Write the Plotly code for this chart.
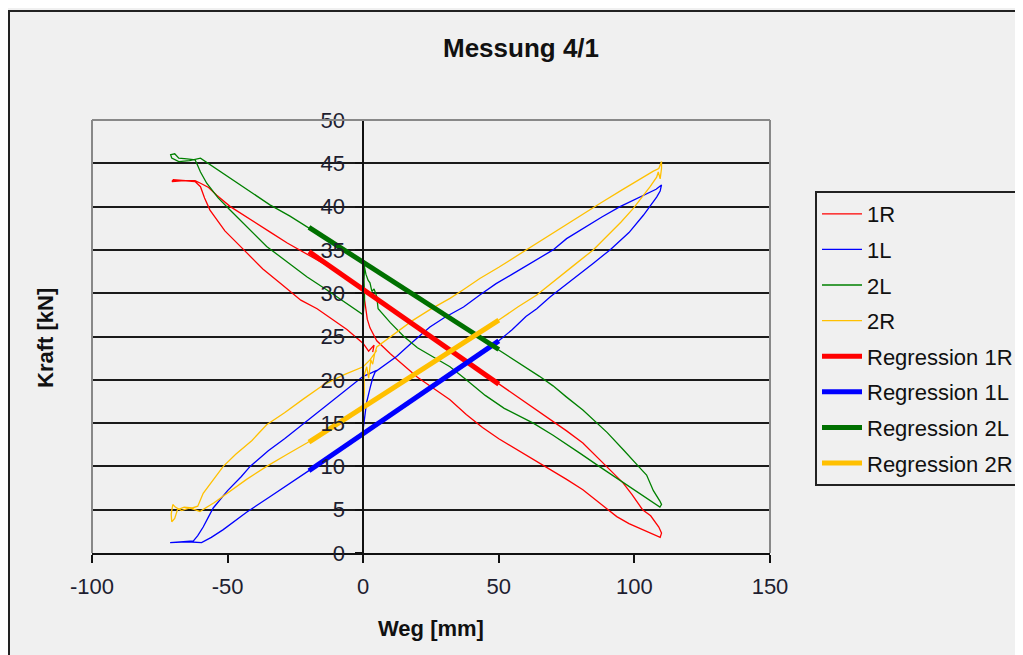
import plotly.graph_objects as go

# ---------------- data ----------------
x_1R = [0, 0.8, 1.5, 2.5, 4, 5, 10, 15, 20, 26, 32, 38, 44, 50, 57, 63, 69, 75, 81, 87, 93.5, 98, 103, 107, 109.5,
        110, 109, 106, 103, 99, 95.8, 91, 86, 81, 75, 69, 60, 50, 40, 30, 20, 10, 0,
        -10, -21, -28, -34, -41, -49, -54, -57, -60, -62, -66, -70.5, -70,
        -66, -62, -60, -58.5, -56.5, -51, -44, -37, -30, -23, -17, -12, -6, 0, 2, 4, 3.5]
y_1R = [30.4, 28.5, 27, 26, 25, 24.5, 23, 21.6, 20.3, 19, 17.7, 16, 14.5, 13.2, 11.9, 10.8, 9.6, 8.5, 7.3, 5.8, 4.2, 3.4, 2.7, 2.1, 1.8,
        2.3, 3, 4.3, 5, 6.8, 8.1, 9.6, 11.2, 12.7, 14.1, 15.4, 17.4, 19.5, 21.7, 23.9, 26.1, 28.2, 30.4,
        32.6, 34.6, 35.8, 37, 38.4, 40, 41.3, 42.2, 42.7, 43, 43, 42.9, 43.1,
        43, 42.9, 42.3, 41, 39.6, 37.2, 35, 32.8, 31, 29.2, 28.2, 27.1, 25.8, 24.2, 23.3, 24, 23.2]

x_1L = [0, 0.6, 1.2, 2.5, 3.5, 4.4, 8, 12.3, 18, 24.6, 30, 37, 43, 49, 55, 61.5, 70, 75, 81, 88, 94.7, 100, 104.5, 108, 110,
        109.5, 108.2, 106, 103.3, 98, 91, 85, 80, 74, 69, 64, 60, 55, 50, 40, 30, 20, 10, 0,
        -10, -19.6, -27, -34.4, -43, -51.6, -56, -59.6, -65, -71.2,
        -66, -62.6, -61, -59, -57, -55.3, -50, -45, -41.7, -35, -29, -23.3, -18, -12.3, -6, 0, 3, 5]
y_1L = [14.3, 15.8, 17.3, 19, 20.2, 20.9, 21.7, 22.7, 24.3, 26.1, 27.2, 28.4, 29.8, 31.1, 32.2, 33.4, 35, 36.3, 37.5, 38.8, 40, 40.8, 41.5, 42, 42.5,
        41.8, 41.1, 40.2, 39, 37, 35, 33.5, 32.3, 30.8, 29.6, 28.2, 27.3, 25.8, 24.5, 22.4, 20.2, 18.1, 15.9, 13.8,
        11.6, 9.6, 8, 6.5, 4.7, 2.7, 1.8, 1.2, 1.3, 1.2,
        1.3, 1.4, 2, 3, 4.2, 5.2, 7.2, 8.8, 10, 11.8, 13.2, 14.6, 15.9, 17.3, 18.9, 20.4, 20.8, 21.1]

x_2L = [0.3, 1, 1.8, 2.5, 3.2, 4, 5, 5.5, 10, 15, 20, 26, 32, 38, 45, 52, 57, 62.7, 70, 75, 80, 87, 94.7, 100, 104, 107, 109.4, 110,
        109.4, 107, 104.5, 102.7, 99, 96, 90, 85, 81, 75, 70, 65, 58, 50, 40, 30, 20, 10, 0,
        -10, -20.8, -27, -34.4, -41, -47.9, -53, -57, -59, -60, -64, -68, -70.6, -71, -69.5, -68, -65, -62,
        -61.4, -60, -57.7, -53.5, -49.1, -42, -35.6, -28, -20.8, -13.5, -6, 0, 0.5, 0.3, 0.5]
y_2L = [33.3, 32.2, 31.5, 31.2, 30.2, 30.5, 29.6, 28.2, 26.6, 25, 23.7, 22.6, 21.5, 20, 18.2, 16.7, 15.9, 15, 13.6, 12.6, 11.5, 10, 8.4, 7.3, 6.5, 5.8, 5.3, 5.6,
        6, 7.2, 9, 9.6, 10.9, 11.9, 13.9, 15.4, 16.5, 18, 19.3, 20.4, 21.8, 23.5, 25.5, 27.5, 29.5, 31.6, 33.6,
        35.6, 37.7, 38.9, 40.2, 41.6, 43.1, 44.2, 45, 45.4, 45.6, 45.3, 45.2, 45.6, 46, 46.1, 45.6, 45.5, 45.4,
        45, 44, 42.7, 41, 39.6, 37.4, 35.4, 33.6, 31.9, 30.4, 28.8, 27.5, 29.5, 31.5, 33]

x_2R = [0, 0.4, 0.3, 1.3, 2, 2.8, 3.5, 4.2, 5, 8, 12.3, 18, 24.6, 32, 36.9, 43, 50, 55, 61.5, 68.9, 75, 81.2, 88, 95.3, 100, 104, 107, 109, 110,
        110, 109.5, 108.8, 108.2, 105.8, 102.5, 99.6, 95, 90, 84.8, 78, 72, 68.9, 64, 57, 50, 40, 30, 20, 10, 0,
        -10, -20.8, -28, -35.6, -43, -50.3, -55, -60.2, -64, -67, -69.3, -70.2, -70.8, -70.6, -69.5, -68.5, -66, -63, -61,
        -59, -55.5, -51.6, -47, -41, -35.6, -29, -22, -14.7, -7, 0, 2.5, 5]
y_2R = [16.8, 18.5, 20.5, 21.5, 20.2, 22.3, 21.8, 23, 23.8, 24.5, 25.4, 26.8, 28.1, 29.4, 30.4, 31.7, 33, 34, 35.2, 36.7, 38, 39.2, 40.5, 41.9, 42.8, 43.6, 44.1, 44.4, 45.2,
        44.4, 43.2, 44, 43.4, 42.3, 41, 39.8, 38.2, 36.6, 35, 33.3, 31.8, 31.1, 29.8, 28.4, 26.9, 24.9, 22.9, 20.9, 18.8, 16.8,
        14.8, 12.7, 11.4, 10, 8.5, 6.9, 5.8, 4.8, 5.2, 4.9, 5.3, 5.6, 4.5, 3.6, 4, 5, 5.3, 5.2, 5.4,
        6.9, 8.4, 10, 11.4, 13, 14.8, 16.2, 17.8, 19.4, 20.6, 21.5, 22.3, 23.4]

x_reg = [-20, 50]
y_reg_1R = [34.8, 19.5]
y_reg_1L = [9.5, 24.5]
y_reg_2L = [37.6, 23.5]
y_reg_2R = [12.8, 26.9]

x_ticks = [-100, -50, 0, 50, 100, 150]
x_tick_text = ["-100", "-50", "0", "50", "100", "150"]
y_ticks = [0, 5, 10, 15, 20, 25, 30, 35, 40, 45, 50]

# ---------------- styling ----------------
RED, BLUE, GREEN, GOLD = "#ff0000", "#0000ff", "#008000", "#ffc000"
BG = "#f0f0f0"
FONT = "Liberation Sans, Arial, sans-serif"

fig = go.Figure()
series = [
    ("1R", x_1R, y_1R, RED, 1.3),
    ("1L", x_1L, y_1L, BLUE, 1.3),
    ("2L", x_2L, y_2L, GREEN, 1.3),
    ("2R", x_2R, y_2R, GOLD, 1.3),
    ("Regression 1R", x_reg, y_reg_1R, RED, 5),
    ("Regression 1L", x_reg, y_reg_1L, BLUE, 5),
    ("Regression 2L", x_reg, y_reg_2L, "#007000", 5),
    ("Regression 2R", x_reg, y_reg_2R, GOLD, 5),
]
for name, xs, ys, col, w in series:
    fig.add_trace(go.Scatter(x=xs, y=ys, mode="lines", name=name, legendgroup=name,
                             line=dict(color=col, width=w)))

# page body has an 8px margin -> figure is laid out 8px up/left of reference pixels
fig.update_layout(
    width=1015, height=647,
    margin=dict(l=84, r=253, t=112, b=102, autoexpand=False),
    paper_bgcolor=BG, plot_bgcolor=BG,
    font=dict(family=FONT, size=22, color="#1e1e30"),
    showlegend=True,
    legend=dict(x=(815 - 92) / 678, y=(553 - 191) / 433, xanchor="left", yanchor="top",
                bgcolor=BG, bordercolor="#222", borderwidth=2,
                font=dict(family=FONT, size=22, color="#111"),
                tracegroupgap=4, itemwidth=40),
    xaxis=dict(range=[-100, 150], tickvals=x_ticks, ticktext=x_tick_text, ticks="outside", ticklen=8,
               tickwidth=1.5, tickcolor="#111", showline=True, linecolor="#111", linewidth=1.5,
               showgrid=False, zeroline=False, ticklabelstandoff=5),
    yaxis=dict(range=[0, 50], tickvals=y_ticks, ticks="outside", ticklen=7, tickwidth=1.5,
               tickcolor="#111", showline=True, linecolor="#111", linewidth=1.5,
               anchor="free", position=0.4, showgrid=True, gridcolor="#1a1a1a", gridwidth=1.5,
               zeroline=False, ticklabelstandoff=6),
)

# plot-area border (left, top, right) in grey
for x0, y0, x1, y1 in [(0, 0, 0, 1), (0, 1, 1, 1), (1, 0, 1, 1)]:
    fig.add_shape(type="line", xref="paper", yref="paper", x0=x0, y0=y0, x1=x1, y1=y1,
                  line=dict(color="#888888", width=2), layer="above")
# outer chart frame
fig.add_shape(type="rect", xref="paper", yref="paper",
              x0=(9 - 92) / 678, x1=1.45, y0=-0.3, y1=(553 - 11) / 433,
              line=dict(color="#222", width=2), layer="above")

fig.add_annotation(text="Messung 4/1", xref="paper", yref="paper",
                   x=(521 - 92) / 678, y=(553 - 48) / 433, showarrow=False,
                   xanchor="center", yanchor="middle",
                   font=dict(family=FONT, size=26, color="#111", weight="bold"))
fig.add_annotation(text="Weg [mm]", xref="paper", yref="paper",
                   x=(431 - 92) / 678, y=(553 - 628) / 433, showarrow=False,
                   xanchor="center", yanchor="middle",
                   font=dict(family=FONT, size=22, color="#111", weight="bold"))
fig.add_annotation(text="Kraft [kN]", xref="paper", yref="paper", textangle=-90,
                   x=(45 - 92) / 678, y=(553 - 338) / 433, showarrow=False,
                   xanchor="center", yanchor="middle",
                   font=dict(family=FONT, size=22, color="#111", weight="bold"))

fig.write_html("out.html")
